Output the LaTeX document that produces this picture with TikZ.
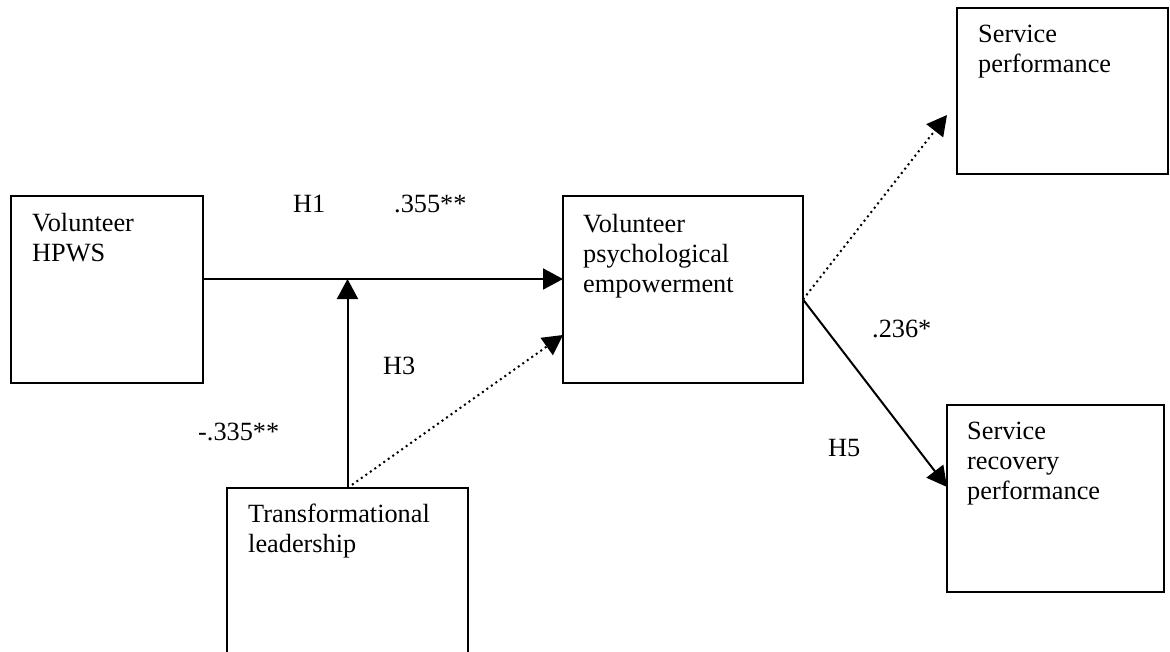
\documentclass[tikz,border=0pt]{standalone}
\usepackage{fontspec}
\setmainfont{Liberation Serif}
\usetikzlibrary{arrows.meta,calc}
\begin{document}
\begin{tikzpicture}[x=1pt,y=-1pt,
  box/.style={draw,line width=2pt,inner sep=0pt,outer sep=0pt,anchor=north west},
  txt/.style={inner sep=0pt,anchor=north west,align=left,font=\fontsize{26.3}{30}\selectfont},
  lbl/.style={inner sep=0pt,anchor=base west,font=\fontsize{26.3}{30}\selectfont},
  arr/.style={line width=2pt,-{Triangle[length=20pt,width=21pt]}},
  dotline/.style={dash pattern=on 2pt off 3.5pt}]
\useasboundingbox (0,0) rectangle (1170,651);
% boxes
\node[box,minimum width=192pt,minimum height=187pt] (hpws) at (11,196) {};
\node[box,minimum width=240pt,minimum height=187pt] (psy) at (563,196) {};
\node[box,minimum width=241pt,minimum height=190pt] (trans) at (227,488) {};
\node[box,minimum width=211pt,minimum height=166pt] (sp) at (957,8) {};
\node[box,minimum width=217pt,minimum height=187pt] (sr) at (947,405) {};
% box texts
\node[txt] (hpwst) at ([shift={(21pt,-17pt)}]hpws.north west) {Volunteer\\HPWS};
\node[txt] (psyt) at ([shift={(20pt,-18pt)}]psy.north west) {Volunteer\\psychological\\empowerment};
\node[txt] (transt) at ([shift={(21pt,-16pt)}]trans.north west) {Transformational\\leadership};
\node[txt] (spt) at ([shift={(21pt,-17pt)}]sp.north west) {Service\\performance};
\node[txt] (srt) at ([shift={(20pt,-17pt)}]sr.north west) {Service\\recovery\\performance};
% helper coordinates
\coordinate (h1s) at ([yshift=10.5pt]hpws.east);
\coordinate (h1e) at (h1s -| psy.west);
\coordinate (mod) at (h1s -| trans.north);
\coordinate (pe) at ([yshift=-10pt]psy.east);
% connectors
\draw[arr] (h1s) -- (h1e);
\draw[arr] (trans.north) -- (mod);
\draw[arr,dotline] (trans.north) -- ([yshift=-45.5pt]psy.west);
\draw[arr,dotline] (pe) -- ([xshift=-10pt,yshift=-24pt]sp.west);
\draw[arr] (pe) -- ([yshift=11.5pt]sr.west);
% labels
\node[lbl] (lh1) at (293,212) {H1};
\node[lbl] (l355) at (394,212) {.355**};
\node[lbl] (lh3) at (383,374) {H3};
\node[lbl] (l335) at (198,440) {-.335**};
\node[lbl] (l236) at (872,337) {.236*};
\node[lbl] (lh5) at (828,456) {H5};
\end{tikzpicture}
\end{document}
